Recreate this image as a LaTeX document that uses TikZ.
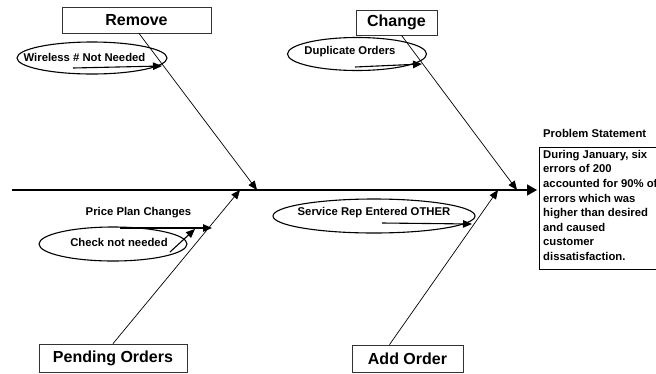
\documentclass[tikz,border=0pt]{standalone}
\usepackage{fontspec}
\setmainfont{Liberation Sans}
\usetikzlibrary{arrows.meta,shapes.geometric}
\tikzset{
  catbox/.style={draw=black!80, line width=0.8pt, inner sep=0pt, font=\fontsize{16}{18}\selectfont\bfseries},
  causeell/.style={draw, ellipse, line width=1.1pt, inner sep=0pt},
  smalltxt/.style={inner sep=0pt, font=\fontsize{11.3}{13}\selectfont\bfseries},
  bone/.style={line width=0.7pt, -{Triangle[length=9pt,width=7.5pt]}},
  sub/.style={line width=1.1pt, -{Triangle[length=9pt,width=7.5pt]}},
  spine/.style={line width=1.4pt, -{Triangle[length=10pt,width=11pt]}}
}
\begin{document}
\begin{tikzpicture}[x=1pt,y=-1pt]
\clip (0,0) rectangle (656,373);
\fill[white] (0,0) rectangle (656,373);

% category boxes
\node[catbox, minimum width=149pt, minimum height=26pt] (rem) at (136.5,20) {Remove};
\node[catbox, minimum width=81pt, minimum height=25pt] (chg) at (396.5,22.5) {Change};
\node[catbox, minimum width=148pt, minimum height=28pt] (pend) at (113,358) {Pending Orders};
\node[catbox, minimum width=111pt, minimum height=27pt] (add) at (407.5,358.5) {Add Order};

% ellipses
\node[causeell, minimum width=150pt, minimum height=32pt] (wl) at (92,58) {};
\node[smalltxt] (wlt) at (84.5,57) {Wireless \# Not Needed};
\node[causeell, minimum width=139pt, minimum height=33pt] (dup) at (357,54) {};
\node[smalltxt] (dupt) at (350,52) {Duplicate Orders};
\node[causeell, minimum width=202pt, minimum height=34pt] (srv) at (374,216) {};
\node[smalltxt] (srvt) at (374,213) {Service Rep Entered OTHER};
\node[causeell, minimum width=148pt, minimum height=34pt] (chk) at (113,244) {};
\node[smalltxt] (chkt) at (119,242) {Check not needed};
\node[smalltxt] (ppc) at (138.5,213) {Price Plan Changes};

% problem statement
\node[smalltxt, anchor=west] (pst) at (543,133) {Problem Statement};
\node[draw, line width=0.8pt, anchor=north west, minimum width=150pt, minimum height=122pt] (prob) at (539,147) {};
\node[smalltxt, anchor=north west, align=left, font=\fontsize{11.3}{14.6}\selectfont\bfseries] (probt) at (543,150)
  {During January, six\\errors of 200\\accounted for 90\% of\\errors which was\\higher than desired\\and caused\\customer\\dissatisfaction.};

% spine
\coordinate (sS) at (12,190);
\coordinate (sE) at (537,190);
\draw[spine] (sS) -- (sE);

% bones
\coordinate (t1) at (257,190);
\coordinate (t2) at (517,190);
\coordinate (t3) at (240,190);
\coordinate (t4) at (498,190);
\draw[bone] ([xshift=2.5pt]rem.south) -- (t1);
\draw[bone] ([xshift=5pt]chg.south) -- (t2);
\draw[bone] (pend.north) -- (t3);
\draw[bone] ([xshift=-18pt]add.north) -- (t4);

% sub-cause arrows
\coordinate (w1) at (73,68);   \coordinate (w2) at (162,66);
\coordinate (d1) at (355,67);  \coordinate (d2) at (422,64);
\coordinate (p1) at (120,228); \coordinate (p2) at (212,228);
\coordinate (c1) at (170,252); \coordinate (c2) at (195,229);
\coordinate (s1) at (382,223); \coordinate (s2) at (472,224);
\draw[sub] (w1) -- (w2);
\draw[sub] (d1) -- (d2);
\draw[sub] (p1) -- (p2);
\draw[sub] (c1) -- (c2);
\draw[sub] (s1) -- (s2);
\end{tikzpicture}
\end{document}
